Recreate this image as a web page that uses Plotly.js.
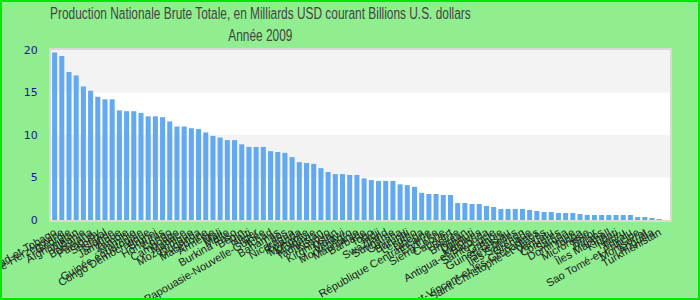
<!DOCTYPE html>
<html>
<head>
<meta charset="utf-8">
<script src="https://cdn.plot.ly/plotly-3.0.1.min.js"></script>
<style>
  html, body { margin: 0; padding: 0; background: #90ee90; }
  #wrap { position: relative; width: 700px; height: 300px; }
  #chart { width: 700px; height: 300px; }
  #frame { position: absolute; left: 0; top: 0; width: 700px; height: 300px; box-sizing: border-box; border: 2px solid #00e800; pointer-events: none; }
</style>
</head>
<body>
<div id="wrap"><div id="chart"></div><div id="frame"></div></div>
<script>
const countries = [
  "Trinidad-et-Tobago", "Bosnie-Herzégovine", "Géorgie", "Afghanistan", "Albanie",
  "Botswana", "Paraguay", "Sénégal", "Islande", "Jamaïque",
  "Zambie", "Namibie", "Guinée équatoriale", "Congo Démocratique", "Brunei",
  "Honduras", "Congo", "Cambodge", "Maurice", "Mozambique",
  "Ouganda", "Macédoine", "Arménie", "Mali", "Malte",
  "Burkina Faso", "Bénin", "Haïti", "Niger", "Papouasie-Nouvelle-Guinée",
  "Tchad", "Bahamas", "Laos", "Nicaragua", "Rwanda",
  "Mongolie", "Moldavie", "Tadjikistan", "Kosovo", "Kirghizistan",
  "Malawi", "Monténégro", "Mauritanie", "Barbade", "Togo",
  "Fidji", "Swaziland", "Suriname", "Guyana", "Burundi",
  "Lesotho", "Libéria", "République Centrafricaine", "Érythrée", "Sierra Leone",
  "Cap-Vert", "Belize", "Bhoutan", "Djibouti", "Maldives",
  "Antigua-et-Barbuda", "Sainte-Lucie", "Gambie", "Guinée-Bissau", "Seychelles",
  "Îles Salomon", "Grenade", "Saint-Vincent-et-les-Grenadines", "Saint-Christophe-et-Niévès", "Vanuatu",
  "Comores", "Samoa", "Dominique", "Tonga", "Micronésie",
  "Timor", "Palaos", "Îles Marshall", "Kiribati", "Nauru",
  "Tuvalu", "Sao Tomé-et-Principe", "Montserrat", "Anguilla", "Turkménistan"
];
const gnpBillions = [
  19.7, 19.3, 17.4, 17.0, 15.7, 15.2, 14.5, 14.2, 14.2, 12.9,
  12.8, 12.8, 12.6, 12.2, 12.2, 12.1, 11.6, 11.0, 11.0, 10.8,
  10.7, 10.3, 9.9, 9.7, 9.4, 9.4, 8.9, 8.6, 8.6, 8.6,
  8.1, 8.0, 7.9, 7.4, 6.8, 6.7, 6.6, 6.1, 5.65, 5.4,
  5.4, 5.3, 5.3, 4.9, 4.7, 4.6, 4.6, 4.6, 4.2, 4.1,
  3.9, 3.2, 3.06, 3.06, 2.94, 2.94, 2.0, 2.0, 1.88, 1.88,
  1.65, 1.53, 1.3, 1.3, 1.3, 1.3, 1.18, 1.06, 0.94, 0.94,
  0.82, 0.82, 0.82, 0.7, 0.59, 0.59, 0.59, 0.59, 0.59, 0.59,
  0.59, 0.35, 0.35, 0.24, 0.12
];
const yTicks = [0, 5, 10, 15, 20];
const bands = [[5, 10], [15, 20]];
const titleLines = ["Production Nationale Brute Totale, en Milliards USD courant Billions U.S. dollars", "Année 2009"];

const shapes = bands.map(b => ({
  type: "rect", xref: "paper", yref: "y", x0: 0, x1: 1, y0: b[0], y1: b[1],
  fillcolor: "#f3f3f3", line: { width: 0 }, layer: "below"
}));

Plotly.newPlot("chart", [{
  type: "bar",
  x: countries,
  y: gnpBillions,
  marker: { color: "#63a9f2" },
  hoverinfo: "x+y"
}], {
  width: 700, height: 300,
  paper_bgcolor: "#90ee90",
  plot_bgcolor: "#ffffff",
  margin: { l: 51, r: 30, t: 50, b: 80 },
  bargap: 0.3,
  showlegend: false,
  title: {
    text: titleLines.join("<br>"),
    font: { family: "Liberation Sans, Arial, sans-serif", size: 17, color: "#444444" },
    x: 0.372, xref: "container", xanchor: "center",
    y: 0.937, yref: "container", yanchor: "middle"
  },
  xaxis: {
    type: "category",
    range: [-0.5, countries.length + 0.5],
    tickmode: "linear", tick0: 0, dtick: 1,
    tickangle: -30,
    tickfont: { family: "Liberation Sans, Arial, sans-serif", size: 11, color: "#222222" },
    showgrid: false, zeroline: false,
    showline: true, mirror: true, linecolor: "#d9d9d9", linewidth: 2,
    ticks: "", automargin: false
  },
  yaxis: {
    range: [0, 20],
    tickvals: yTicks,
    ticktext: yTicks.map(String),
    tickfont: { family: "DejaVu Sans, sans-serif", size: 11, color: "#1a1a8a" },
    showgrid: false, zeroline: false,
    showline: true, mirror: true, linecolor: "#d9d9d9", linewidth: 2,
    ticks: "outside", ticklen: 9, tickcolor: "rgba(0,0,0,0)",
    automargin: false
  },
  shapes: shapes
}, { displayModeBar: false, staticPlot: true }).then(gd => {
  // the reference title is drawn in a condensed face: squeeze it horizontally about its centre
  const t = gd.querySelector(".g-gtitle text");
  if (t) {
    const bb = t.getBBox();
    const cx = bb.x + bb.width / 2;
    const prev = t.getAttribute("transform") || "";
    t.setAttribute("transform", prev + ` translate(${cx},0) scale(0.7,1) translate(${-cx},0)`);
  }
});
</script>
</body>
</html>
